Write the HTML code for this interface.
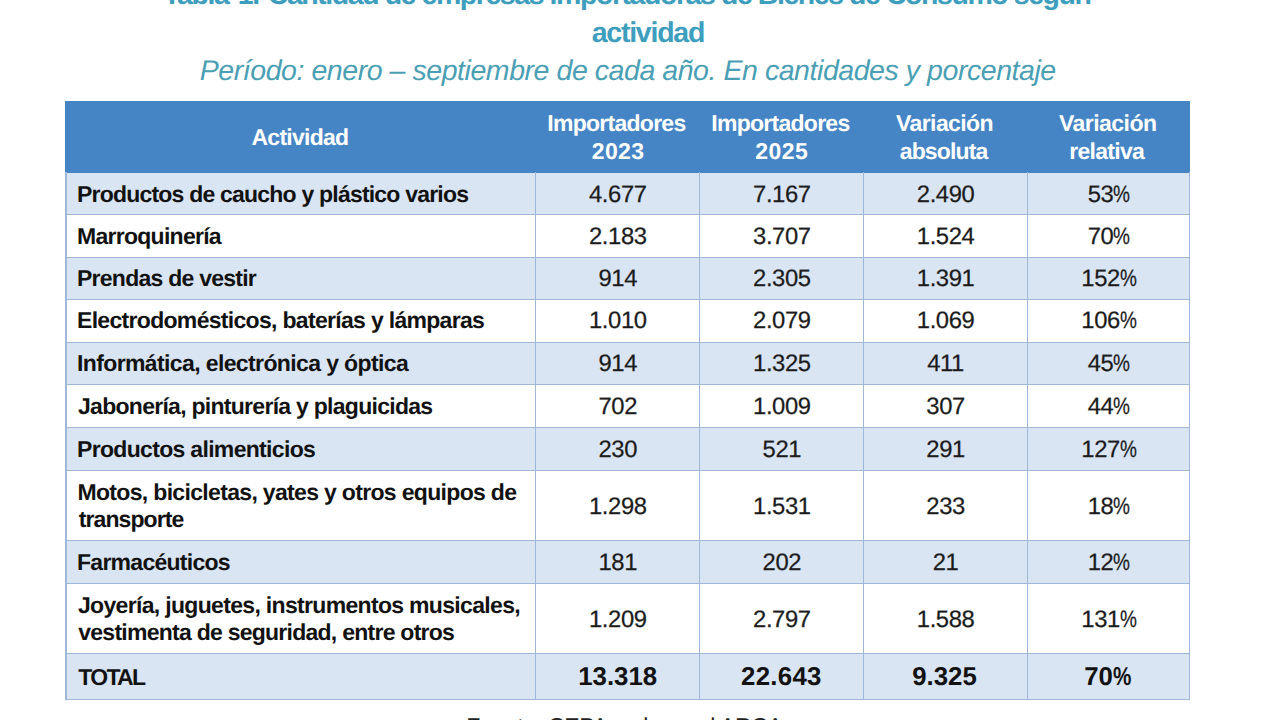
<!DOCTYPE html>
<html><head><meta charset="utf-8"><title>Tabla 1</title>
<style>
html,body{margin:0;padding:0;background:#fff;}
body{width:1280px;height:720px;overflow:hidden;position:relative;font-family:"Liberation Sans",sans-serif;color:#151515;text-rendering:geometricPrecision;}
.a{position:absolute;white-space:nowrap;}
.lb{font-weight:bold;color:#121212;}
.hd{font-weight:bold;color:#fff;}
.ti{font-weight:bold;color:#3E9EBD;}
.su{font-style:italic;color:#4A9FB5;}
.sr{color:#222;}
.tb{font-weight:bold;color:#121212;}
.nm{text-align:center;color:#1c1c1c;-webkit-text-stroke:0.25px #1c1c1c;letter-spacing:-0.4px;}
.pc{display:inline-block;transform:scaleX(0.8);transform-origin:0 50%;margin-right:-0.19em;}
.n1{margin:0 2.5px 0 3px;}
.hdr{background:#4585C6;}
.shade{background:#D9E5F3;}
.vl{background:#A0B8D8;width:1.3px;}
.hl{background:#A0B8D8;height:1.3px;}
</style></head><body>
<div class="a hdr" style="left:65.3px;top:101px;width:1124.6px;height:71.5px;"></div>
<div class="a shade" style="left:65.3px;width:1124.6px;top:172.5px;height:42.0px;"></div>
<div class="a shade" style="left:65.3px;width:1124.6px;top:257px;height:42.5px;"></div>
<div class="a shade" style="left:65.3px;width:1124.6px;top:342px;height:42.5px;"></div>
<div class="a shade" style="left:65.3px;width:1124.6px;top:427px;height:43.5px;"></div>
<div class="a shade" style="left:65.3px;width:1124.6px;top:540px;height:43.5px;"></div>
<div class="a shade" style="left:65.3px;width:1124.6px;top:653px;height:46.5px;"></div>
<div class="a hl" style="left:65.3px;width:1124.6px;top:214px;"></div>
<div class="a hl" style="left:65.3px;width:1124.6px;top:257px;"></div>
<div class="a hl" style="left:65.3px;width:1124.6px;top:299px;"></div>
<div class="a hl" style="left:65.3px;width:1124.6px;top:342px;"></div>
<div class="a hl" style="left:65.3px;width:1124.6px;top:384px;"></div>
<div class="a hl" style="left:65.3px;width:1124.6px;top:427px;"></div>
<div class="a hl" style="left:65.3px;width:1124.6px;top:470px;"></div>
<div class="a hl" style="left:65.3px;width:1124.6px;top:540px;"></div>
<div class="a hl" style="left:65.3px;width:1124.6px;top:583px;"></div>
<div class="a hl" style="left:65.3px;width:1124.6px;top:653px;"></div>
<div class="a hl" style="left:65.3px;width:1124.6px;top:699px;"></div>
<div class="a vl" style="left:65.3px;top:172px;height:528.25px;"></div>
<div class="a vl" style="left:535px;top:172px;height:528.25px;"></div>
<div class="a vl" style="left:699px;top:172px;height:528.25px;"></div>
<div class="a vl" style="left:863px;top:172px;height:528.25px;"></div>
<div class="a vl" style="left:1027px;top:172px;height:528.25px;"></div>
<div class="a vl" style="left:1188.65px;top:172px;height:528.25px;"></div>
<div class="a lb" style="left:77.00px;top:179.00px;font-size:23px;line-height:30px;letter-spacing:-0.792px;">Productos de caucho y plástico varios</div>
<div class="a lb" style="left:77.00px;top:221.00px;font-size:23px;line-height:30px;letter-spacing:-0.729px;">Marroquinería</div>
<div class="a lb" style="left:77.00px;top:263.00px;font-size:23px;line-height:30px;letter-spacing:-0.750px;">Prendas de vestir</div>
<div class="a lb" style="left:77.00px;top:305.00px;font-size:23px;line-height:30px;letter-spacing:-0.689px;">Electrodomésticos, baterías y lámparas</div>
<div class="a lb" style="left:77.00px;top:348.00px;font-size:23px;line-height:30px;letter-spacing:-0.617px;">Informática, electrónica y óptica</div>
<div class="a lb" style="left:78.00px;top:391.00px;font-size:23px;line-height:30px;letter-spacing:-0.721px;">Jabonería, pinturería y plaguicidas</div>
<div class="a lb" style="left:77.00px;top:434.00px;font-size:23px;line-height:30px;letter-spacing:-0.679px;">Productos alimenticios</div>
<div class="a lb" style="left:77.50px;top:477.00px;font-size:23px;line-height:30px;letter-spacing:-0.673px;">Motos, bicicletas, yates y otros equipos de</div>
<div class="a lb" style="left:78.75px;top:504.00px;font-size:23px;line-height:30px;letter-spacing:-0.917px;">transporte</div>
<div class="a lb" style="left:77.00px;top:547.00px;font-size:23px;line-height:30px;letter-spacing:-0.729px;">Farmacéuticos</div>
<div class="a lb" style="left:78.00px;top:590.00px;font-size:23px;line-height:30px;letter-spacing:-0.677px;">Joyería, juguetes, instrumentos musicales,</div>
<div class="a lb" style="left:78.25px;top:617.00px;font-size:23px;line-height:30px;letter-spacing:-0.743px;">vestimenta de seguridad, entre otros</div>
<div class="a lb" style="left:78.25px;top:662.00px;font-size:23px;line-height:30px;letter-spacing:-1.688px;">TOTAL</div>
<div class="a hd" style="left:251.50px;top:122.00px;font-size:23px;line-height:30px;letter-spacing:-0.750px;">Actividad</div>
<div class="a hd" style="left:547.25px;top:108.00px;font-size:23px;line-height:30px;letter-spacing:-0.727px;">Importadores</div>
<div class="a hd" style="left:591.65px;top:136.00px;font-size:23px;line-height:30px;letter-spacing:0.450px;">2023</div>
<div class="a hd" style="left:711.25px;top:108.00px;font-size:23px;line-height:30px;letter-spacing:-0.727px;">Importadores</div>
<div class="a hd" style="left:755.35px;top:136.00px;font-size:23px;line-height:30px;letter-spacing:0.467px;">2025</div>
<div class="a hd" style="left:896.00px;top:108.00px;font-size:23px;line-height:30px;letter-spacing:-0.581px;">Variación</div>
<div class="a hd" style="left:899.75px;top:136.00px;font-size:23px;line-height:30px;letter-spacing:-0.871px;">absoluta</div>
<div class="a hd" style="left:1059.00px;top:108.00px;font-size:23px;line-height:30px;letter-spacing:-0.531px;">Variación</div>
<div class="a hd" style="left:1069.25px;top:136.00px;font-size:23px;line-height:30px;letter-spacing:-0.700px;">relativa</div>
<div class="a ti" style="left:163.25px;top:-20.00px;font-size:28.5px;line-height:30px;letter-spacing:-1.438px;">Tabla<span class="n1"> 1.</span> Cantidad de empresas importadoras de Bienes de Consumo según</div>
<div class="a ti" style="left:591.65px;top:18.00px;font-size:28.5px;line-height:30px;letter-spacing:-1.225px;">actividad</div>
<div class="a su" style="left:199.75px;top:56.00px;font-size:28.5px;line-height:30px;letter-spacing:-0.443px;">Período: enero – septiembre de cada año. En cantidades y porcentaje</div>
<div class="a sr" style="left:466.15px;top:711.00px;font-size:23px;line-height:30px;letter-spacing:-0.330px;">Fuente: CEPA en base al ARCA</div>
<div class="a tb" style="left:578.25px;top:662.00px;font-size:25.8px;line-height:30px;letter-spacing:0.000px;">13.318</div>
<div class="a tb" style="left:741.00px;top:662.00px;font-size:25.8px;line-height:30px;letter-spacing:0.300px;">22.643</div>
<div class="a tb" style="left:912.25px;top:662.00px;font-size:25.8px;line-height:30px;letter-spacing:0.000px;">9.325</div>
<div class="a tb" style="left:1084.35px;top:662.00px;font-size:25.8px;line-height:30px;letter-spacing:-0.100px;">70<span class="pc">%</span></div>
<div class="a nm" style="left:535.6px;width:164.4px;top:180.00px;font-size:23.8px;line-height:30px;">4.677</div>
<div class="a nm" style="left:700.0px;width:163.7px;top:180.00px;font-size:23.8px;line-height:30px;">7.167</div>
<div class="a nm" style="left:863.7px;width:163.8px;top:180.00px;font-size:23.8px;line-height:30px;">2.490</div>
<div class="a nm" style="left:1027.5px;width:162.4px;top:180.00px;font-size:23.8px;line-height:30px;">53<span class="pc">%</span></div>
<div class="a nm" style="left:535.6px;width:164.4px;top:222.00px;font-size:23.8px;line-height:30px;">2.183</div>
<div class="a nm" style="left:700.0px;width:163.7px;top:222.00px;font-size:23.8px;line-height:30px;">3.707</div>
<div class="a nm" style="left:863.7px;width:163.8px;top:222.00px;font-size:23.8px;line-height:30px;">1.524</div>
<div class="a nm" style="left:1027.5px;width:162.4px;top:222.00px;font-size:23.8px;line-height:30px;">70<span class="pc">%</span></div>
<div class="a nm" style="left:535.6px;width:164.4px;top:264.00px;font-size:23.8px;line-height:30px;">914</div>
<div class="a nm" style="left:700.0px;width:163.7px;top:264.00px;font-size:23.8px;line-height:30px;">2.305</div>
<div class="a nm" style="left:863.7px;width:163.8px;top:264.00px;font-size:23.8px;line-height:30px;">1.391</div>
<div class="a nm" style="left:1027.5px;width:162.4px;top:264.00px;font-size:23.8px;line-height:30px;">152<span class="pc">%</span></div>
<div class="a nm" style="left:535.6px;width:164.4px;top:306.00px;font-size:23.8px;line-height:30px;">1.010</div>
<div class="a nm" style="left:700.0px;width:163.7px;top:306.00px;font-size:23.8px;line-height:30px;">2.079</div>
<div class="a nm" style="left:863.7px;width:163.8px;top:306.00px;font-size:23.8px;line-height:30px;">1.069</div>
<div class="a nm" style="left:1027.5px;width:162.4px;top:306.00px;font-size:23.8px;line-height:30px;">106<span class="pc">%</span></div>
<div class="a nm" style="left:535.6px;width:164.4px;top:349.00px;font-size:23.8px;line-height:30px;">914</div>
<div class="a nm" style="left:700.0px;width:163.7px;top:349.00px;font-size:23.8px;line-height:30px;">1.325</div>
<div class="a nm" style="left:863.7px;width:163.8px;top:349.00px;font-size:23.8px;line-height:30px;">411</div>
<div class="a nm" style="left:1027.5px;width:162.4px;top:349.00px;font-size:23.8px;line-height:30px;">45<span class="pc">%</span></div>
<div class="a nm" style="left:535.6px;width:164.4px;top:392.00px;font-size:23.8px;line-height:30px;">702</div>
<div class="a nm" style="left:700.0px;width:163.7px;top:392.00px;font-size:23.8px;line-height:30px;">1.009</div>
<div class="a nm" style="left:863.7px;width:163.8px;top:392.00px;font-size:23.8px;line-height:30px;">307</div>
<div class="a nm" style="left:1027.5px;width:162.4px;top:392.00px;font-size:23.8px;line-height:30px;">44<span class="pc">%</span></div>
<div class="a nm" style="left:535.6px;width:164.4px;top:435.00px;font-size:23.8px;line-height:30px;">230</div>
<div class="a nm" style="left:700.0px;width:163.7px;top:435.00px;font-size:23.8px;line-height:30px;">521</div>
<div class="a nm" style="left:863.7px;width:163.8px;top:435.00px;font-size:23.8px;line-height:30px;">291</div>
<div class="a nm" style="left:1027.5px;width:162.4px;top:435.00px;font-size:23.8px;line-height:30px;">127<span class="pc">%</span></div>
<div class="a nm" style="left:535.6px;width:164.4px;top:492.00px;font-size:23.8px;line-height:30px;">1.298</div>
<div class="a nm" style="left:700.0px;width:163.7px;top:492.00px;font-size:23.8px;line-height:30px;">1.531</div>
<div class="a nm" style="left:863.7px;width:163.8px;top:492.00px;font-size:23.8px;line-height:30px;">233</div>
<div class="a nm" style="left:1027.5px;width:162.4px;top:492.00px;font-size:23.8px;line-height:30px;">18<span class="pc">%</span></div>
<div class="a nm" style="left:535.6px;width:164.4px;top:548.00px;font-size:23.8px;line-height:30px;">181</div>
<div class="a nm" style="left:700.0px;width:163.7px;top:548.00px;font-size:23.8px;line-height:30px;">202</div>
<div class="a nm" style="left:863.7px;width:163.8px;top:548.00px;font-size:23.8px;line-height:30px;">21</div>
<div class="a nm" style="left:1027.5px;width:162.4px;top:548.00px;font-size:23.8px;line-height:30px;">12<span class="pc">%</span></div>
<div class="a nm" style="left:535.6px;width:164.4px;top:605.00px;font-size:23.8px;line-height:30px;">1.209</div>
<div class="a nm" style="left:700.0px;width:163.7px;top:605.00px;font-size:23.8px;line-height:30px;">2.797</div>
<div class="a nm" style="left:863.7px;width:163.8px;top:605.00px;font-size:23.8px;line-height:30px;">1.588</div>
<div class="a nm" style="left:1027.5px;width:162.4px;top:605.00px;font-size:23.8px;line-height:30px;">131<span class="pc">%</span></div>
</body></html>
